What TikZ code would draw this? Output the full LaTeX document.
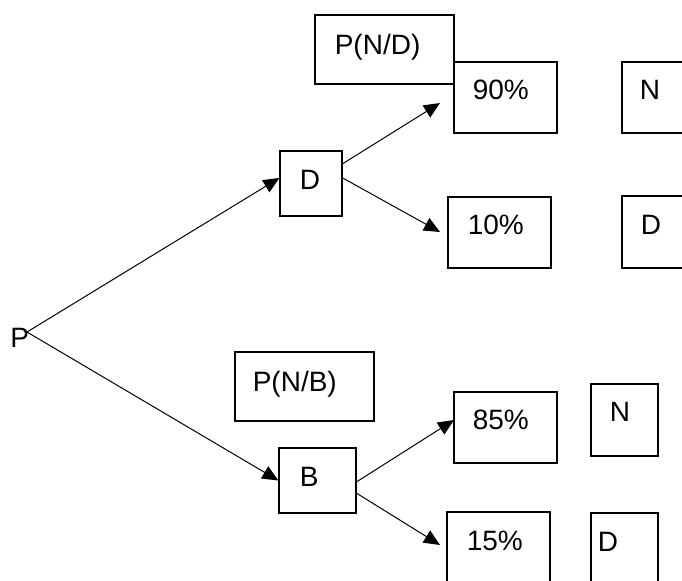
\documentclass[tikz,border=0pt]{standalone}
\usepackage{fontspec}
\setmainfont{Liberation Sans}
\usetikzlibrary{arrows.meta,calc,fit}
\tikzset{
	box/.style={draw, line width=0.6pt, inner sep=0pt},
	txt/.style={inner sep=0pt, anchor=base west, font=\fontsize{14}{16}\selectfont},
	branch/.style={line width=0.5pt, -{Triangle[length=8pt,width=7pt]}}
}
\def\textbox(#1)(#2)(#3)(#4)#5{\node[box, fit={(#2) (#3)}] (#1) {}; \node[txt] (#1-t) at ($(#1.north west)+(#4)$) {#5};}

\begin{document}
\begin{tikzpicture}[x=0.5pt, y=-0.5pt]
		%%%%% START %%%%%
		
		\useasboundingbox (0, 0) rectangle (682, 580);
		\clip (0, 0) rectangle (682, 580);
		
		\node[txt] (p) at (10, 347) {P};
		\coordinate (root) at (27, 332);
		
		\textbox(d)(280,151)(342,216)(20,39){D}
		\textbox(b)(279,448)(356,513)(21,39){B}
		
		\textbox(pnd)(315,15)(454,84)(20,40){P(N/D)}
		\textbox(pnb)(235,352)(374,421)(18,40){P(N/B)}
		
		\textbox(d90)(454,62)(557,133)(19,38){90\%}
		\textbox(d10)(448,197)(551,268)(20,38){10\%}
		\textbox(b85)(454,392)(557,463)(19,38){85\%}
		\textbox(b15)(447,512)(550,600)(20,39){15\%}
		
		\textbox(dn)(622,62)(690,133)(18,38){N}
		\textbox(dd)(622,196)(690,268)(19,39){D}
		\textbox(bn)(591,384)(658,456)(19,38){N}
		\textbox(bd)(591,513)(658,600)(7,39){D}
		
		\coordinate (tip90) at (440, 103);
		\coordinate (tip10) at (440, 232);
		\coordinate (tip85) at (454, 420);
		\coordinate (tip15) at (440, 545);
		
		\draw[branch] (root) -- (d.170);
		\draw[branch] (root) -- (b.west);
		
		\draw[branch] (d.32) -- (tip90);
		\draw[branch] (d.10) -- (tip10);
		\draw[branch] (b.-2) -- (tip85);
		\draw[branch] (b.-18) -- (tip15);
		
		%%%%% END %%%%%
	\end{tikzpicture}
\end{document}
